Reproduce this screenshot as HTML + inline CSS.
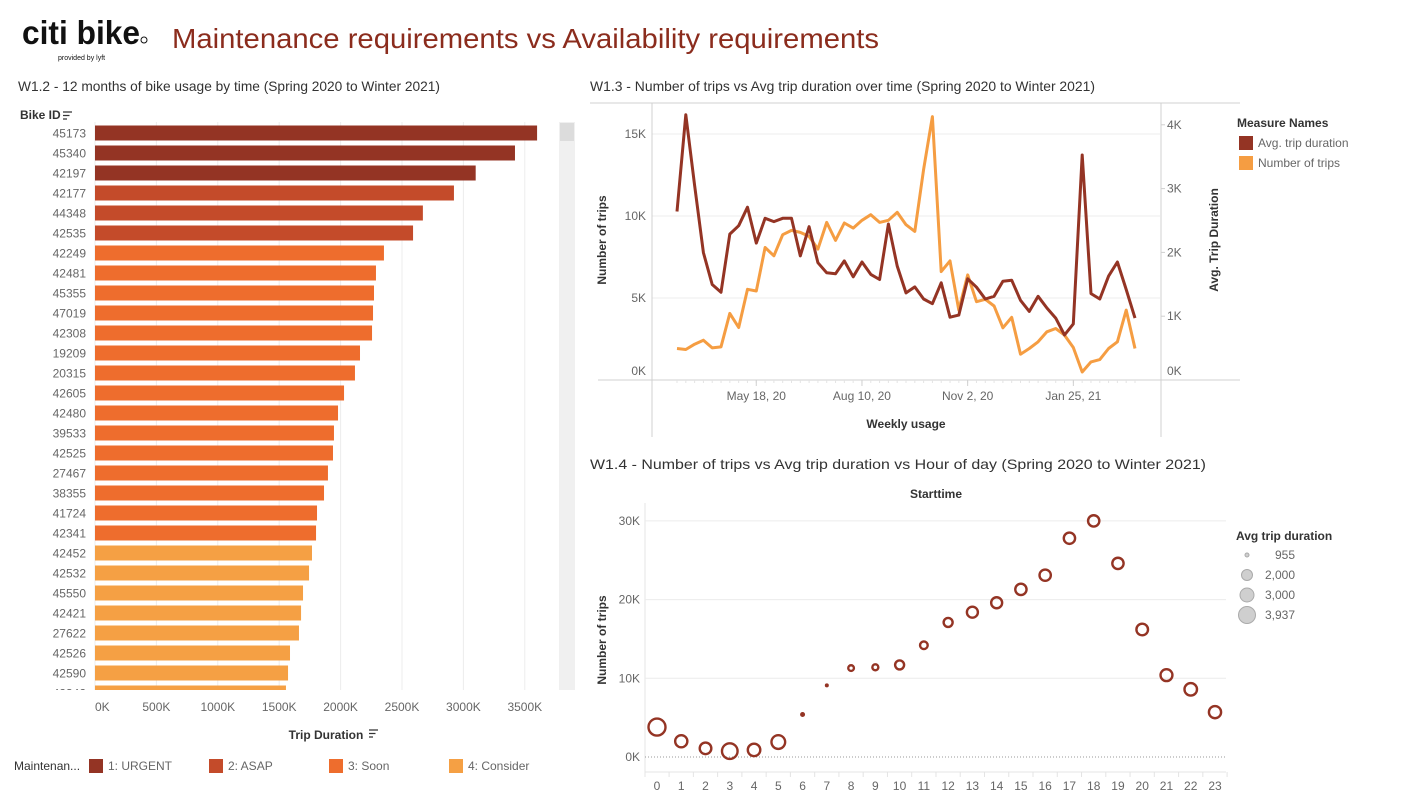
<!DOCTYPE html>
<html><head><meta charset="utf-8"><style>
html,body{margin:0;padding:0;background:#fff;}
svg{display:block;font-family:"Liberation Sans",sans-serif;}
</style></head><body>
<svg id="root" width="1403" height="805" viewBox="0 0 1403 805" xmlns="http://www.w3.org/2000/svg">
<g>
<text x="22" y="44" font-size="33" font-weight="bold" fill="#111" textLength="118" lengthAdjust="spacingAndGlyphs">citi bike</text>
<circle cx="144" cy="40" r="3" fill="none" stroke="#111" stroke-width="1"/>
<text x="58" y="60" font-size="7" fill="#111">provided by lyft</text>
</g>
<text x="172" y="48" font-size="28" fill="#8b2c1d" textLength="707" lengthAdjust="spacingAndGlyphs">Maintenance requirements vs Availability requirements</text>
<text x="18" y="91" font-size="14" fill="#333" textLength="422" lengthAdjust="spacingAndGlyphs">W1.2 - 12 months of bike usage by time (Spring 2020 to Winter 2021)</text>
<text x="590" y="91" font-size="14" fill="#333" textLength="505" lengthAdjust="spacingAndGlyphs">W1.3 - Number of trips vs Avg trip duration over time (Spring 2020 to Winter 2021)</text>
<text x="590" y="469" font-size="14" fill="#333" textLength="616" lengthAdjust="spacingAndGlyphs">W1.4 - Number of trips vs Avg trip duration vs Hour of day (Spring 2020 to Winter 2021)</text>
<g id="bars"></g>
<g id="lines"></g>
<g id="scatter"></g>
</svg>
<script>
// ---- Bar chart data ----
const bikeIds = ["45173","45340","42197","42177","44348","42535","42249","42481","45355","47019","42308","19209","20315","42605","42480","39533","42525","27467","38355","41724","42341","42452","42532","45550","42421","27622","42526","42590","42342"];
const tripDurationK = [3600,3420,3100,2923,2670,2590,2353,2288,2272,2264,2256,2158,2117,2028,1979,1946,1938,1897,1865,1808,1800,1767,1743,1694,1678,1661,1588,1572,1555];
const priority = [1,1,1,2,2,2,3,3,3,3,3,3,3,3,3,3,3,3,3,3,3,4,4,4,4,4,4,4,4];
const priorityNames = ["1: URGENT","2: ASAP","3: Soon","4: Consider"];
const barTicksK = [0,500,1000,1500,2000,2500,3000,3500];
// ---- Line chart data ----
const weekStart = "2020-03-16";
const numTrips = [1920,1857,2184,2429,1959,2020,4061,3204,5531,5429,8082,7572,8858,9123,9000,8755,7980,9612,8510,9571,9265,9735,10082,9612,9735,10224,9469,9061,12836,16061,6612,7265,4265,6408,4775,4918,4510,3184,3816,1571,1918,2327,2939,3143,2735,1980,490,1102,1245,1918,2327,4265,1918];
const avgDuration = [2641,4158,3051,1997,1497,1375,2287,2419,2709,2145,2535,2482,2535,2535,1945,2403,1839,1681,1665,1866,1618,1850,1655,1576,2445,1787,1365,1460,1270,1196,1523,985,1017,1586,1455,1270,1312,1549,1565,1249,1075,1312,1128,970,706,880,3526,1354,1270,1628,1850,1418,970];
const dateTicks = ["2020-05-18","2020-08-10","2020-11-02","2021-01-25"];
const dateTickLabels = ["May 18, 20","Aug 10, 20","Nov 2, 20","Jan 25, 21"];
const tripTicks = [0,5000,10000,15000];
const durTicks = [0,1000,2000,3000,4000];
// ---- Scatter data ----
const hours = [0,1,2,3,4,5,6,7,8,9,10,11,12,13,14,15,16,17,18,19,20,21,22,23];
const hourTrips = [3800,2000,1100,750,900,1900,5400,9100,11300,11400,11700,14200,17100,18400,19600,21300,23100,27800,30000,24600,16200,10400,8600,5700];
const hourDuration = [3937,2400,2200,3500,2500,2900,1100,955,1200,1250,1700,1500,1700,2000,2000,2100,2100,2100,2100,2100,2200,2300,2500,2400];
const scatterTicks = [0,10000,20000,30000];
const sizeLegend = [955,2000,3000,3937];

const NS="http://www.w3.org/2000/svg";
function mk(parent,tag,attrs,text){const e=document.createElementNS(NS,tag);for(const k in attrs)e.setAttribute(k,attrs[k]);if(text!==undefined)e.textContent=text;parent.appendChild(e);return e;}
const colors={1:"#943424",2:"#c44b2a",3:"#ee6d2d",4:"#f5a044"};
const DARK="#943424", ORANGE="#f59d42", GRID="#ececec", AX="#d0d0d0", TXT="#666";

// ===== Bar chart =====
(function(){
 const g=document.getElementById('bars');
 const x=v=>95+v*(61.4/500);
 const rowY=i=>133+i*20;
 mk(g,'text',{x:20,y:119,'font-size':12,'font-weight':'bold',fill:'#333'},'Bike ID');
 mk(g,'path',{d:'M63 112h9M63 115.5h6.5M63 119h4',stroke:'#333','stroke-width':1.3});
 barTicksK.forEach(t=>{
  const l=mk(g,'line',{x1:x(t),x2:x(t),y1:122,y2:690,stroke:GRID});
  
  
  const tx=mk(g,'text',{x:x(t),y:711,'font-size':12,fill:TXT,'text-anchor':t===0?'start':'middle'},t+'K');
  
  
 });
 const clip=mk(g,'clipPath',{id:'barclip'});mk(clip,'rect',{x:0,y:122,width:560,height:568});
 const cg=mk(g,'g',{'clip-path':'url(#barclip)'});
 bikeIds.forEach((id,i)=>{
  const r=mk(cg,'rect',{x:95,y:rowY(i)-7.5,width:x(tripDurationK[i])-95,height:15,fill:colors[priority[i]]});
  
  
  const t=mk(cg,'text',{x:86,y:rowY(i)+4.5,'font-size':12,fill:TXT,'text-anchor':'end'},id);
  
  
 });
 const sb=mk(g,'rect',{x:559,y:122,width:16,height:568,fill:'#f0f0f0'});
 
 
 mk(g,'rect',{x:560,y:123,width:14,height:18,fill:'#dcdcdc'});
 mk(g,'text',{x:326,y:739,'font-size':12,'font-weight':'bold',fill:'#333','text-anchor':'middle'},'Trip Duration');
 mk(g,'path',{d:'M369 730h9M369 733.5h6.5M369 737h4',stroke:'#333','stroke-width':1.3});
 mk(g,'text',{x:14,y:770,'font-size':12,fill:'#333'},'Maintenan...');
 const lx=[89,209,329,449];
 priorityNames.forEach((n,i)=>{
  const s=mk(g,'rect',{x:lx[i],y:759,width:14,height:14,fill:colors[i+1]});
  
  
  const t=mk(g,'text',{x:lx[i]+19,y:770,'font-size':12,fill:TXT},n);
  
  
 });
})();

// ===== Line chart =====
(function(){
 const g=document.getElementById('lines');
 const t0=new Date(weekStart+'T00:00:00Z').getTime();
 const WEEK=7*86400000;
 const xi=i=>677+i*((1135-677)/52);
 const xd=s=>xi((new Date(s+'T00:00:00Z').getTime()-t0)/WEEK);
 const yL=v=>380-v*(82/5000);
 const yR=v=>380-v*(63.8/1000);
 tripTicks.forEach(t=>{
  if(t>0){const l=mk(g,'line',{x1:652,x2:1160,y1:yL(t),y2:yL(t),stroke:GRID});
  
  }
  const tx=mk(g,'text',{x:646,y:t===0?375:yL(t)+4,'font-size':12,fill:TXT,'text-anchor':'end'},(t/1000)+'K');
  
  
 });
 durTicks.forEach(t=>{
  mk(g,'line',{x1:1161,x2:1165,y1:yR(t),y2:yR(t),stroke:AX});
  const tx=mk(g,'text',{x:1167,y:t===0?375:yR(t)+4,'font-size':12,fill:TXT},(t/1000)+'K');
  
  
 });
 mk(g,'line',{x1:590,x2:1240,y1:103,y2:103,stroke:AX});
 mk(g,'line',{x1:598,x2:1240,y1:380,y2:380,stroke:AX});
 mk(g,'line',{x1:652,x2:652,y1:103,y2:437,stroke:AX});
 mk(g,'line',{x1:1161,x2:1161,y1:103,y2:437,stroke:AX});
 for(let i=0;i<=52;i+=1){mk(g,'line',{x1:xi(i),x2:xi(i),y1:380,y2:383,stroke:'#e4e4e4'});}
 dateTicks.forEach((d,i)=>{
  mk(g,'line',{x1:xd(d),x2:xd(d),y1:380,y2:386,stroke:AX});
  const tx=mk(g,'text',{x:xd(d),y:400,'font-size':12,fill:TXT,'text-anchor':'middle'},dateTickLabels[i]);
  
  
 });
 const p1=numTrips.map((v,i)=>(i?'L':'M')+xi(i).toFixed(1)+' '+yL(v).toFixed(1)).join('');
 const l1=mk(g,'path',{d:p1,fill:'none',stroke:ORANGE,'stroke-width':3,'stroke-linejoin':'round'});
 
 
 const p2=avgDuration.map((v,i)=>(i?'L':'M')+xi(i).toFixed(1)+' '+yR(v).toFixed(1)).join('');
 const l2=mk(g,'path',{d:p2,fill:'none',stroke:DARK,'stroke-width':3,'stroke-linejoin':'round'});
 
 
 mk(g,'text',{x:906,y:428,'font-size':12,'font-weight':'bold',fill:'#333','text-anchor':'middle'},'Weekly usage');
 mk(g,'text',{x:0,y:0,'font-size':12,'font-weight':'bold',fill:'#333','text-anchor':'middle',transform:'translate(606,240) rotate(-90)'},'Number of trips');
 mk(g,'text',{x:0,y:0,'font-size':12,'font-weight':'bold',fill:'#333','text-anchor':'middle',transform:'translate(1218,240) rotate(-90)'},'Avg. Trip Duration');
 mk(g,'text',{x:1237,y:127,'font-size':12,'font-weight':'bold',fill:'#333'},'Measure Names');
 const s1=mk(g,'rect',{x:1239,y:136,width:14,height:14,fill:DARK});
 
 
 const e1=mk(g,'text',{x:1258,y:147,'font-size':12,fill:TXT},'Avg. trip duration');
 
 
 const s2=mk(g,'rect',{x:1239,y:156,width:14,height:14,fill:ORANGE});
 
 
 const e2=mk(g,'text',{x:1258,y:167,'font-size':12,fill:TXT},'Number of trips');
 
 
})();

// ===== Scatter =====
(function(){
 const g=document.getElementById('scatter');
 const xh=h=>657+h*((1215-657)/23);
 const y=v=>757-v*(78.7/10000);
 const rs=v=>{const pts=[[955,2],[2000,5.5],[3000,7],[3937,8.5]];if(v<=pts[0][0])return pts[0][1];for(let i=1;i<pts.length;i++){if(v<=pts[i][0]){const a=pts[i-1],b=pts[i];return a[1]+(v-a[0])/(b[0]-a[0])*(b[1]-a[1]);}}return 8.5;};
 mk(g,'text',{x:936,y:498,'font-size':12,'font-weight':'bold',fill:'#333','text-anchor':'middle'},'Starttime');
 mk(g,'line',{x1:645,x2:645,y1:503,y2:777,stroke:'#e4e4e4'});
 mk(g,'line',{x1:645,x2:1226,y1:772,y2:772,stroke:'#e4e4e4'});
 scatterTicks.forEach(t=>{
  const l=mk(g,'line',{x1:645,x2:1226,y1:y(t),y2:y(t),stroke:t===0?'#999':GRID,'stroke-dasharray':t===0?'1 2':'none'});
  
  
  const tx=mk(g,'text',{x:640,y:y(t)+4,'font-size':12,fill:TXT,'text-anchor':'end'},(t/1000)+'K');
  
  
 });
 hours.forEach((h,i)=>{
  mk(g,'line',{x1:xh(h)+12.1,x2:xh(h)+12.1,y1:772,y2:777,stroke:'#e4e4e4'});
  const tx=mk(g,'text',{x:xh(h),y:790,'font-size':12,fill:TXT,'text-anchor':'middle'},String(h));
  
  
  const r=rs(hourDuration[i]);
  const c=mk(g,'circle',{cx:xh(h),cy:y(hourTrips[i]),r:r,fill:r<2.5?DARK:'none',stroke:DARK,'stroke-width':r<2.5?0:2.4});
  
  
 });
 mk(g,'text',{x:0,y:0,'font-size':12,'font-weight':'bold',fill:'#333','text-anchor':'middle',transform:'translate(606,640) rotate(-90)'},'Number of trips');
 mk(g,'text',{x:1236,y:540,'font-size':12,'font-weight':'bold',fill:'#333'},'Avg trip duration');
 sizeLegend.forEach((v,i)=>{
  const cy=555+i*20;
  const c=mk(g,'circle',{cx:1247,cy:cy,r:rs(v),fill:'#cfcfcf',stroke:'#aaa','stroke-width':1});
  
  
  const t=mk(g,'text',{x:1295,y:cy+4,'font-size':12,fill:TXT,'text-anchor':'end'},v.toLocaleString('en-US'));
  
  
 });
})();
</script>
</body></html>
